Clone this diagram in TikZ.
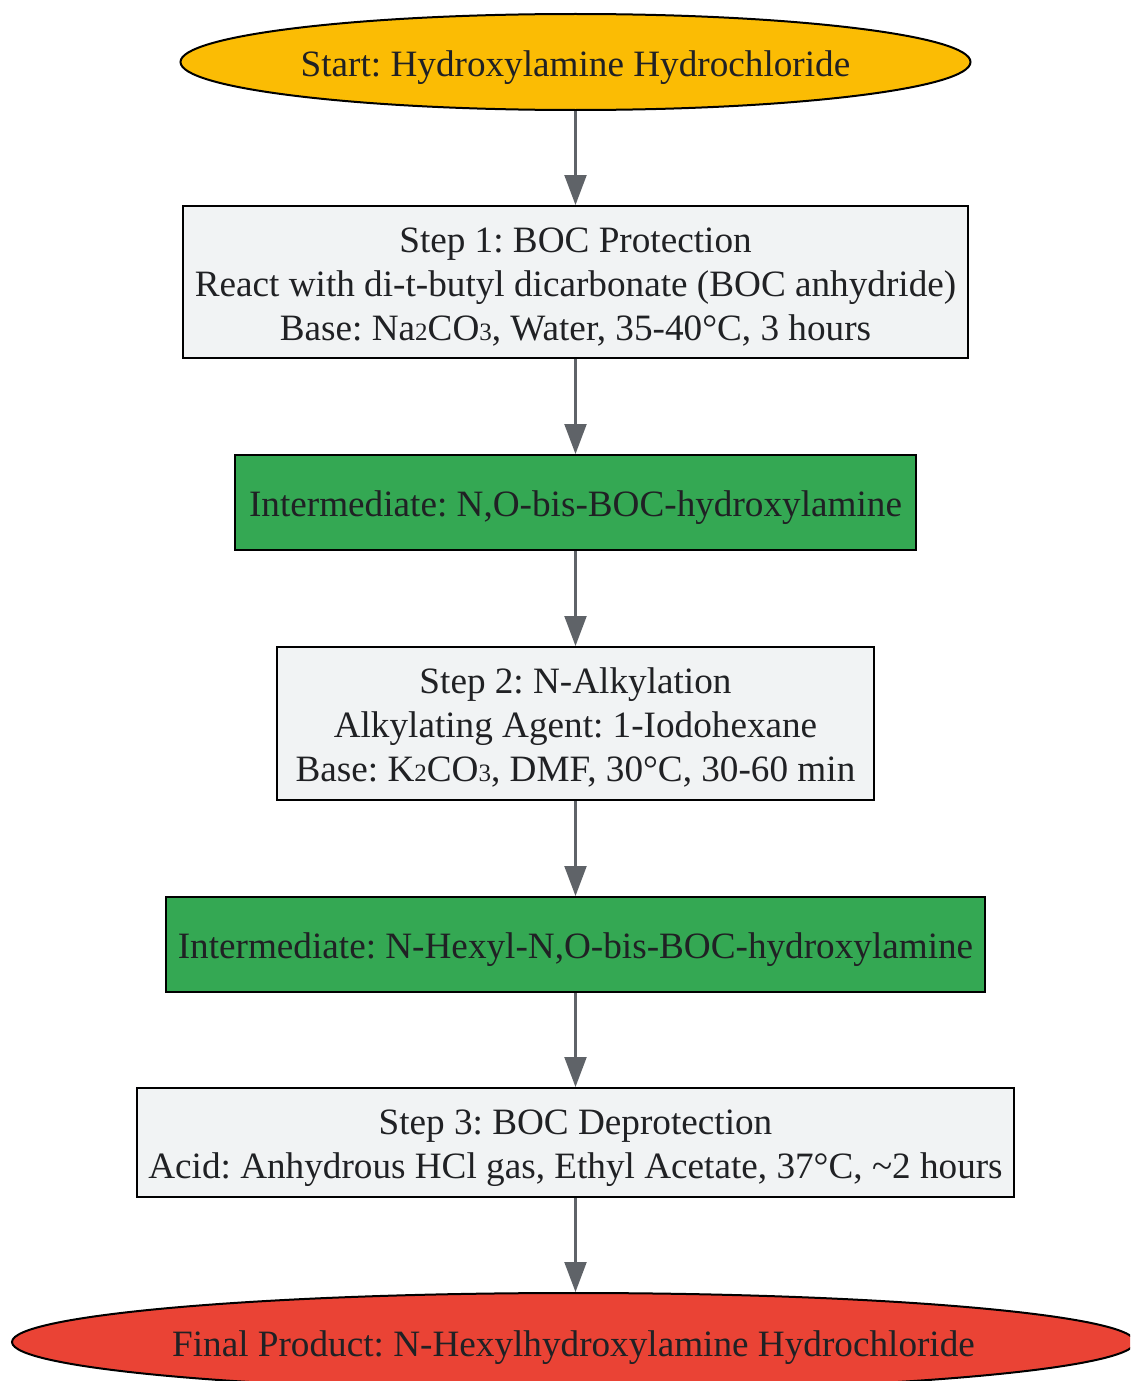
\documentclass[tikz,border=0pt]{standalone}
\usepackage{fontspec}
\setmainfont{Liberation Serif}
\usetikzlibrary{shapes.geometric,arrows.meta}
\definecolor{txt}{HTML}{202124}
\definecolor{arr}{HTML}{5F6368}
\definecolor{stepfill}{HTML}{F1F3F4}
\definecolor{startfill}{HTML}{FBBC04}
\definecolor{interfill}{HTML}{34A853}
\definecolor{endfill}{HTML}{EA4335}
\newcommand\lbl[1]{\makebox[0pt]{\raisebox{-11.5pt}[0pt][0pt]{\begin{tabular}{@{}c@{}}#1\end{tabular}}}}
\newcommand\sbs[1]{{\fontsize{25}{25}\selectfont #1}}
\tikzset{
  base/.style={draw=black, line width=2pt, text=txt, align=center, inner sep=0pt,
    font=\fontsize{37.2}{44}\selectfont\frenchspacing},
  stepbox/.style={base, rectangle, fill=stepfill},
  interbox/.style={base, rectangle, fill=interfill},
  oval/.style={base, ellipse},
  conn/.style={draw=arr, line width=2.2pt, -{Triangle[length=30pt,width=22pt]}}
}
\begin{document}
\begin{tikzpicture}[x=1pt,y=-1pt]
\useasboundingbox (0,0) rectangle (1130,1381);
\clip (0,0) rectangle (1130,1381);
\node[oval, fill=startfill, minimum width=790pt, minimum height=96pt] (start) at (575.5,62) {\lbl{Start: Hydroxylamine Hydrochloride}};
\node[stepbox, minimum width=785pt, minimum height=152pt] (s1) at (575.5,282) {\lbl{Step 1: BOC Protection\\React with di-t-butyl dicarbonate (BOC anhydride)\\Base: Na\sbs{2}CO\sbs{3}, Water, 35-40°C, 3 hours}};
\node[interbox, minimum width=681pt, minimum height=95pt] (i1) at (575.5,502.5) {\lbl{Intermediate: N,O-bis-BOC-hydroxylamine}};
\node[stepbox, minimum width=597pt, minimum height=153pt] (s2) at (575.5,723.5) {\lbl{Step 2: N-Alkylation\\Alkylating Agent: 1-Iodohexane\\Base: K\sbs{2}CO\sbs{3}, DMF, 30°C, 30-60 min}};
\node[interbox, minimum width=819pt, minimum height=95pt] (i2) at (575.5,944.5) {\lbl{Intermediate: N-Hexyl-N,O-bis-BOC-hydroxylamine}};
\node[stepbox, minimum width=877pt, minimum height=109pt] (s3) at (575.5,1142.5) {\lbl{Step 3: BOC Deprotection\\Acid: Anhydrous HCl gas, Ethyl Acetate, 37°C, \textasciitilde2 hours}};
\node[oval, fill=endfill, minimum width=1123pt, minimum height=98pt] (fin) at (573.5,1342) {\lbl{Final Product: N-Hexylhydroxylamine Hydrochloride}};
\draw[conn] (start.south -| s1.north) -- (s1.north);
\draw[conn] (s1.south) -- (i1.north);
\draw[conn] (i1.south) -- (s2.north);
\draw[conn] (s2.south) -- (i2.north);
\draw[conn] (i2.south) -- (s3.north);
\draw[conn] (s3.south) -- (s3.south |- fin.north);
\end{tikzpicture}
\end{document}
